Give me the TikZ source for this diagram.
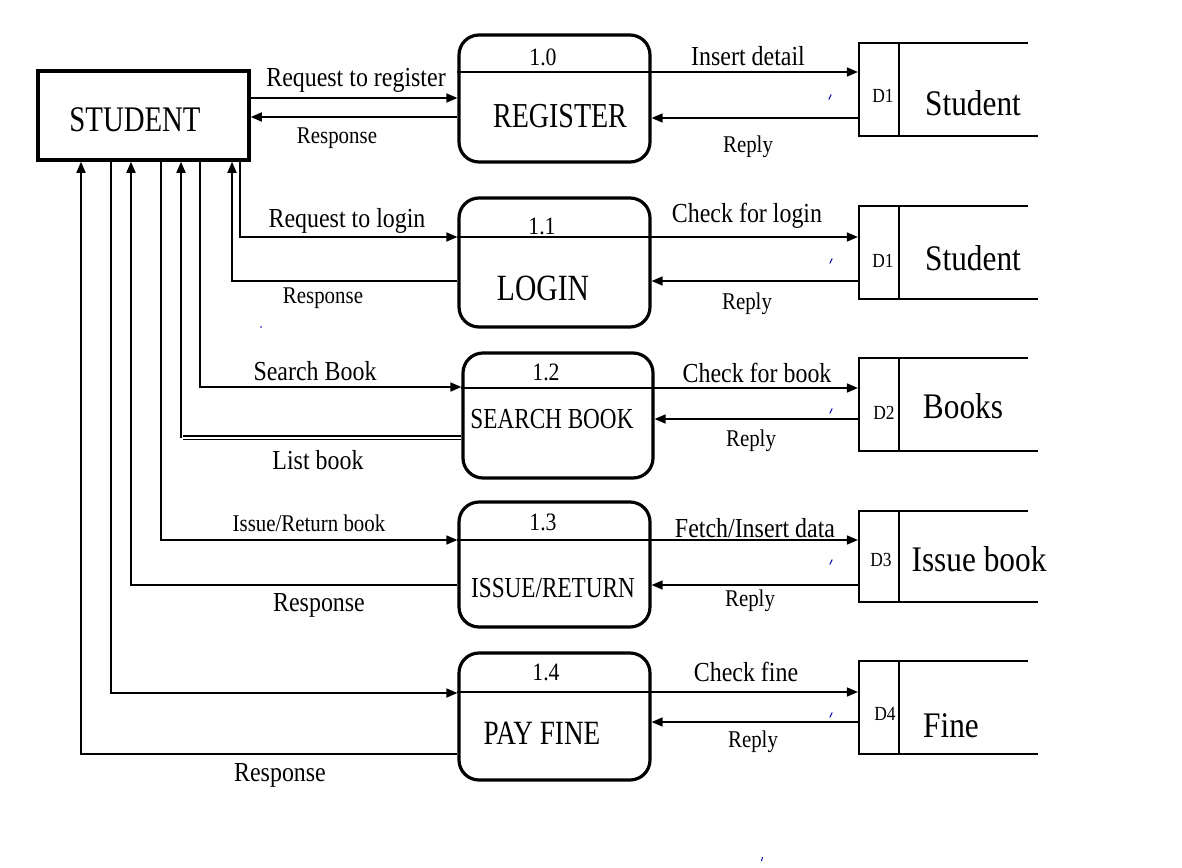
\documentclass[tikz,border=0pt]{standalone}
\usepackage{fontspec}
\setmainfont{Liberation Serif}[FakeStretch=0.87]
\newfontfamily\capsf{Liberation Serif}[FakeStretch=0.8]
\usetikzlibrary{arrows.meta}
\begin{document}
\begin{tikzpicture}[x=1pt,y=-1pt,
  flow/.style={line width=1.6pt},
  arr/.style={flow,-{Triangle[length=11pt,width=9pt]}},
  proc/.style={draw,line width=3.2pt,rounded corners=20pt,minimum width=191pt,inner sep=0pt},
  ent/.style={draw,line width=3.5pt,minimum width=211pt,minimum height=89pt,inner sep=0pt},
  dbox/.style={draw,line width=2.2pt,minimum width=40pt,inner sep=0pt},
  sline/.style={line width=2.2pt},
  lbl/.style={inner sep=0pt,font=\fontsize{27.5}{30}\selectfont},
  slbl/.style={inner sep=0pt,font=\fontsize{24}{26}\selectfont},
  num/.style={inner sep=0pt,font=\fontsize{25}{27}\selectfont},
  dlbl/.style={inner sep=0pt,font=\fontsize{20}{22}\selectfont},
  sname/.style={inner sep=0pt,font=\fontsize{36}{38}\selectfont},
  ttl/.style={inner sep=0pt,font=\capsf\fontsize{#1}{#1}\selectfont},
  tick/.style={draw=blue!70!black,line width=1pt}
]
\fill[white] (0,0) rectangle (1182,867);
\useasboundingbox (0,0) rectangle (1182,867);

% entity
\node[ent] (student) at (143.5,115.5) {};
\node[ttl=36] (studentT) at (135,120) {STUDENT};

% processes
\node[proc,minimum height=127pt] (p10) at (554.5,98.5) {};
\node[proc,minimum height=129pt] (p11) at (554.5,262.5) {};
\node[proc,minimum width=190pt,minimum height=125pt] (p12) at (558,415.5) {};
\node[proc,minimum height=125pt] (p13) at (554.5,564.5) {};
\node[proc,minimum height=127pt] (p14) at (554.5,716.5) {};

\draw[flow] (p10.west |- 0,72) -- (p10.east |- 0,72);
\draw[flow] (p11.west |- 0,237) -- (p11.east |- 0,237);
\draw[flow] (p12.west |- 0,388) -- (p12.east |- 0,388);
\draw[flow] (p13.west |- 0,540) -- (p13.east |- 0,540);
\draw[flow] (p14.west |- 0,692) -- (p14.east |- 0,692);

\node[num] (n10) at (543,57) {1.0};
\node[ttl=35] (t10) at (560,116) {REGISTER};
\node[num] (n11) at (542,226) {1.1};
\node[ttl=37] (t11) at (543,288) {LOGIN};
\node[num] (n12) at (546,372) {1.2};
\node[ttl=29] (t12) at (552,419) {SEARCH BOOK};
\node[num] (n13) at (543,522) {1.3};
\node[ttl=29] (t13) at (553,588) {ISSUE/RETURN};
\node[num] (n14) at (546,672) {1.4};
\node[ttl=34] (t14) at (542,733) {PAY FINE};

% data stores
\node[dbox,minimum height=93pt] (d1a) at (879,89.5) {};
\node[dbox,minimum height=93pt] (d1b) at (879,252.5) {};
\node[dbox,minimum height=93pt] (d2) at (879,404.5) {};
\node[dbox,minimum height=91pt] (d3) at (879,556.5) {};
\node[dbox,minimum height=93pt] (d4) at (879,707.5) {};
\foreach \s in {d1a,d1b,d2,d3,d4}{
  \draw[sline] ([yshift=-1.1pt]\s.north) -- ([yshift=-1.1pt]\s.north -| 1028,0);
  \draw[sline] ([yshift=1.1pt]\s.south) -- ([yshift=1.1pt]\s.south -| 1038,0);
}
\node[dlbl] (d1aT) at (883,96) {D1};
\node[sname] (s1a) at (973,103) {Student};
\node[dlbl] (d1bT) at (883,261) {D1};
\node[sname] (s1b) at (973,258) {Student};
\node[dlbl] (d2T) at (884,413) {D2};
\node[sname] (s2) at (963,406) {Books};
\node[dlbl] (d3T) at (881,560) {D3};
\node[sname] (s3) at (979,559) {Issue book};
\node[dlbl] (d4T) at (885,714) {D4};
\node[sname] (s4) at (951,726) {Fine};

% register flows
\draw[arr] (student.east |- 0,98) -- (p10.west |- 0,98);
\draw[arr] (p10.west |- 0,117) -- (student.east |- 0,117);
\draw[arr] (p10.east |- 0,72) -- (d1a.west |- 0,72);
\draw[arr] (d1a.west |- 0,118) -- (p10.east |- 0,118);

% login flows
\draw[arr] (student.south -| 240,0) |- (p11.west |- 0,237);
\draw[arr] (p11.west |- 0,281) -| (student.south -| 232,0);
\draw[arr] (p11.east |- 0,237) -- (d1b.west |- 0,237);
\draw[arr] (d1b.west |- 0,281) -- (p11.east |- 0,281);

% search flows
\draw[arr] (student.south -| 200,0) |- (p12.west |- 0,387);
\coordinate (lb) at (181,437.5);
\draw[line width=1.2pt,double,double distance=2pt] (p12.west |- 0,437.5) -- ([xshift=2pt]lb);
\draw[arr] (lb) -- (student.south -| lb);
\draw[arr] (p12.east |- 0,388) -- (d2.west |- 0,388);
\draw[arr] (d2.west |- 0,419) -- (p12.east |- 0,419);

% issue flows
\draw[arr] (student.south -| 161,0) |- (p13.west |- 0,540);
\draw[arr] (p13.west |- 0,585) -| (student.south -| 131,0);
\draw[arr] (p13.east |- 0,540) -- (d3.west |- 0,540);
\draw[arr] (d3.west |- 0,585) -- (p13.east |- 0,585);

% pay fine flows
\draw[arr] (student.south -| 111,0) |- (p14.west |- 0,693);
\draw[arr] (p14.west |- 0,754) -| (student.south -| 81,0);
\draw[arr] (p14.east |- 0,692) -- (d4.west |- 0,692);
\draw[arr] (d4.west |- 0,722) -- (p14.east |- 0,722);

% labels
\node[lbl] (l1) at (356,80) {Request to register};
\node[slbl] (l2) at (337,138) {Response};
\node[lbl] (l3) at (748,56) {Insert detail};
\node[slbl] (l4) at (748,147) {Reply};
\node[lbl] (l5) at (347,221) {Request to login};
\node[slbl] (l6) at (323,298) {Response};
\node[lbl] (l7) at (747,216) {Check for login};
\node[slbl] (l8) at (747,304) {Reply};
\node[lbl] (l9) at (315,371) {Search Book};
\node[lbl] (l10) at (318,460) {List book};
\node[lbl] (l11) at (757,373) {Check for book};
\node[slbl] (l12) at (751,441) {Reply};
\node[slbl] (l13) at (309,523) {Issue/Return book};
\node[lbl] (l14) at (319,605) {Response};
\node[lbl] (l15) at (755,528) {Fetch/Insert data};
\node[slbl] (l16) at (750,601) {Reply};
\node[lbl] (l17) at (746,672) {Check fine};
\node[slbl] (l18) at (753,742) {Reply};
\node[lbl] (l19) at (280,775) {Response};

% small blue marks
\foreach \x/\y in {830/97,831/261,831/411,831/562,831/715}{
  \draw[tick] (\x-1.2,\y+2.5) -- (\x+1.2,\y-2.5);
}
\fill[blue!70!black] (261,327) circle (0.9pt);
\draw[tick] (761.5,861) -- (762.5,857);
\end{tikzpicture}
\end{document}
